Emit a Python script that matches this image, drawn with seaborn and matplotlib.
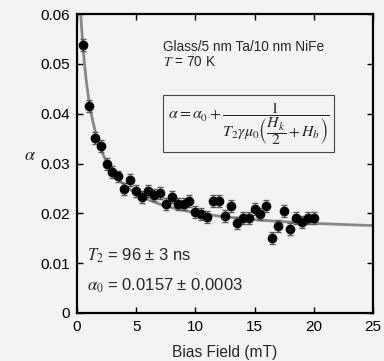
import numpy as np
import pandas as pd
import seaborn as sns
import matplotlib
matplotlib.use("Agg")
import matplotlib.pyplot as plt

# measured damping vs bias field
field = [0.5, 1.0, 1.5, 2.0, 2.5, 3.0, 3.5, 4.0, 4.5, 5.0,
         5.5, 6.0, 6.5, 7.0, 7.5, 8.0, 8.5, 9.0, 9.5, 10.0,
         10.5, 11.0, 11.5, 12.0, 12.5, 13.0, 13.5, 14.0, 14.5, 15.0,
         15.5, 16.0, 16.5, 17.0, 17.5, 18.0, 18.5, 19.0, 19.5, 20.0]
alpha = [0.0538, 0.0416, 0.0351, 0.0336, 0.0299, 0.0283, 0.0274, 0.0248, 0.0266, 0.0245,
         0.0232, 0.0244, 0.0236, 0.0240, 0.0218, 0.0232, 0.0218, 0.0218, 0.0224, 0.0202,
         0.0198, 0.0193, 0.0225, 0.0225, 0.0195, 0.0215, 0.0181, 0.0190, 0.0190, 0.0208,
         0.0198, 0.0215, 0.0151, 0.0174, 0.0205, 0.0168, 0.0190, 0.0182, 0.0190, 0.0190]
alpha_err = [0.0012] * len(field)

# fit parameters: alpha = a0 + c / (H + hk/2)
a0 = 0.0157
c_fit = 0.0478
hk_half = 0.76

sns.set_style("ticks")
plt.rcParams['font.family'] = ['Liberation Sans', 'DejaVu Sans']
plt.rcParams['mathtext.fontset'] = 'stix'

bg = '#f3f3f3'
fig = plt.figure(figsize=(3.84, 3.61), dpi=100, facecolor=bg)
ax = fig.add_axes([0.2005, 0.133, 0.7705, 0.828])
ax.set_facecolor(bg)

hfit = np.linspace(0.25, 25, 400)
fit = pd.DataFrame({'H': hfit, 'a': a0 + c_fit / (hfit + hk_half)})
sns.lineplot(data=fit, x='H', y='a', color='#888888', lw=2.0, ax=ax, zorder=1)

ax.errorbar(field, alpha, yerr=alpha_err, fmt='none', ecolor='#5a5a5a',
            elinewidth=1, capsize=2.2, capthick=1, zorder=2)
df = pd.DataFrame({'H': field, 'a': alpha})
sns.scatterplot(data=df, x='H', y='a', color='black', s=42, edgecolor='black',
                linewidth=0.5, ax=ax, zorder=3)

ax.set_xlim(0, 25)
ax.set_ylim(0, 0.06)
ax.set_xticks([0, 5, 10, 15, 20, 25])
ax.set_yticks([0, 0.01, 0.02, 0.03, 0.04, 0.05, 0.06])
ax.set_yticklabels(['0', '0.01', '0.02', '0.03', '0.04', '0.05', '0.06'])
ax.tick_params(direction='in', top=True, right=True, length=4, width=1,
               labelsize=11, colors='black', pad=5)
for s in ax.spines.values():
    s.set_linewidth(1.6)
    s.set_color('black')

ax.set_xlabel('Bias Field (mT)', fontsize=11.2, labelpad=8)
ax.set_ylabel(r'$\alpha$', fontsize=13, rotation=0, labelpad=14)
ax.yaxis.set_label_coords(-0.16, 0.5)

ax.text(0.29, 0.876, 'Glass/5 nm Ta/10 nm NiFe', transform=ax.transAxes,
        fontsize=9.8, va='baseline')
ax.text(0.29, 0.826, r'$T$ = 70 K', transform=ax.transAxes, fontsize=9.8, va='baseline')
ax.text(0.58, 0.634,
        r'$\alpha = \alpha_0 + \dfrac{1}{T_2\gamma\mu_0\left(\dfrac{H_k}{2}+H_b\right)}$',
        transform=ax.transAxes, fontsize=11.4, va='center', ha='center',
        bbox=dict(boxstyle='square,pad=0.3', fc=bg, ec='#444444', lw=0.8))

ax.text(0.035, 0.175, r'$T_2$ = 96 ± 3 ns', transform=ax.transAxes, fontsize=12)
ax.text(0.035, 0.075, r'$\alpha_0$ = 0.0157 ± 0.0003', transform=ax.transAxes, fontsize=12)

fig.savefig('out.png', dpi=100, facecolor=bg)
